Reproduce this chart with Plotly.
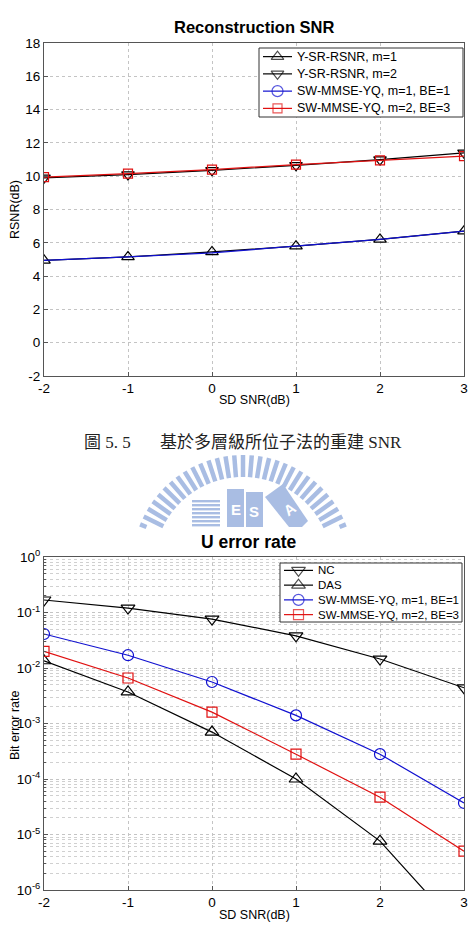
import numpy as np
import plotly.graph_objects as go

W, H = 475, 928

# ---------------- data ----------------
snr = [-2, -1, 0, 1, 2, 3]

# Top chart: Reconstruction SNR
ysr_m1 = [4.95, 5.15, 5.45, 5.8, 6.2, 6.7]
ysr_m2 = [9.9, 10.1, 10.35, 10.65, 11.0, 11.4]
sw_m1_be1 = [4.95, 5.15, 5.4, 5.8, 6.2, 6.7]
sw_m2_be3 = [9.95, 10.15, 10.4, 10.7, 10.95, 11.2]
top_names = ["Y-SR-RSNR, m=1", "Y-SR-RSNR, m=2", "SW-MMSE-YQ, m=1, BE=1", "SW-MMSE-YQ, m=2, BE=3"]
top_yticks = [-2, 0, 2, 4, 6, 8, 10, 12, 14, 16, 18]

# Bottom chart: U error rate
nc = [0.168, 0.12, 0.076, 0.038, 0.0145, 0.0044]
das = [0.0135, 0.0037, 0.0007, 1.0e-4, 7.6e-6, 1.6e-7]
sw_ber_m1 = [0.041, 0.017, 0.0056, 0.0014, 2.8e-4, 3.7e-5]
sw_ber_m2 = [0.02, 0.0066, 0.0016, 2.8e-4, 4.7e-5, 5.0e-6]
bot_names = ["NC", "DAS", "SW-MMSE-YQ, m=1, BE=1", "SW-MMSE-YQ, m=2, BE=3"]
decade_exps = [0, -1, -2, -3, -4, -5, -6]
xticks = [-2, -1, 0, 1, 2, 3]

caption_num = "圖 5. 5"
caption_txt = "基於多層級所位子法的重建 SNR"


def px(x):
    return x / W


def py(y):
    return 1 - y / H


FONT = "Liberation Sans, Arial, sans-serif"
GRID = "#c4c4c4"
AXC = "#555555"
BLK, BLU, RED = "black", "#1010d0", "#e01010"

top_styles = [(BLK, "triangle-up-open", 11), (BLK, "triangle-down-open", 11),
              (BLU, "circle-open", 11), (RED, "square-open", 9)]
bot_styles = [(BLK, "triangle-down-open", 12), (BLK, "triangle-up-open", 12),
              (BLU, "circle-open", 11), (RED, "square-open", 10)]

fig = go.Figure()

# ---- top traces ----
for (col, sym, sz), ys, nm in zip(top_styles, [ysr_m1, ysr_m2, sw_m1_be1, sw_m2_be3], top_names):
    show_m = sym != "circle-open"  # blue markers hidden under the triangles in the reference
    fig.add_trace(go.Scatter(x=snr, y=ys, name=nm, mode="lines+markers" if show_m else "lines",
                             line=dict(color=col, width=1.2),
                             marker=dict(symbol=sym, size=sz, color=col, line=dict(width=1.2)),
                             xaxis="x", yaxis="y", showlegend=False))

# ---- bottom traces ----
for (col, sym, sz), ys, nm in zip(bot_styles, [nc, das, sw_ber_m1, sw_ber_m2], bot_names):
    fig.add_trace(go.Scatter(x=snr, y=ys, name=nm, mode="lines+markers",
                             line=dict(color=col, width=1.2),
                             marker=dict(symbol=sym, size=sz, color=col, line=dict(width=1.2)),
                             xaxis="x2", yaxis="y2", showlegend=False))

# ---- hand-built legends on a pixel overlay axis ----
def add_legend(names, styles, box, font_size):
    x0, y0, x1, y1 = box
    fig.add_trace(go.Scatter(x=[x0, x1, x1, x0, x0], y=[y0, y0, y1, y1, y0], mode="lines",
                             fill="toself", fillcolor="white", line=dict(color="#333", width=1),
                             xaxis="x3", yaxis="y3", showlegend=False, hoverinfo="skip"))
    n = len(names)
    rh = (y1 - y0) / n
    for i, (nm, (col, sym, sz)) in enumerate(zip(names, styles)):
        yc = y0 + rh * (i + 0.5)
        lx0, lx1 = x0 + 4, x0 + 33
        fig.add_trace(go.Scatter(x=[lx0, (lx0 + lx1) / 2, lx1], y=[yc, yc, yc], mode="lines+markers",
                                 line=dict(color=col, width=1.2),
                                 marker=dict(symbol=sym, size=[0, sz, 0], color=col, line=dict(width=1.2)),
                                 xaxis="x3", yaxis="y3", showlegend=False, hoverinfo="skip"))
        fig.add_annotation(text=nm, x=px(lx1 + 3), y=py(yc), xref="paper", yref="paper",
                           showarrow=False, xanchor="left", yanchor="middle",
                           font=dict(family=FONT, size=font_size, color="black"))


add_legend(top_names, top_styles, (259, 48, 463, 117), 12.5)
add_legend(bot_names, bot_styles, (280, 563, 462, 622), 11.5)

xdom = [px(44), px(464)]
top_dom = [py(376), py(43)]
bot_dom = [py(890), py(557)]

common_axis = dict(showline=True, linecolor=AXC, linewidth=1, mirror=True,
                   ticks="inside", ticklen=4, tickcolor=AXC, automargin=False,
                   showgrid=True, gridcolor=GRID, griddash="dot", gridwidth=1,
                   zeroline=False, tickfont=dict(family=FONT, size=13.5, color="black"))

minor_vals = [m * 10.0 ** e for e in decade_exps[1:] for m in range(2, 10)]

fig.update_layout(
    width=W, height=H, margin=dict(l=0, r=0, t=0, b=0),
    paper_bgcolor="white", plot_bgcolor="rgba(0,0,0,0)",
    font=dict(family=FONT, color="black"), showlegend=False,
    xaxis=dict(domain=xdom, anchor="y", range=[-2, 3], tickvals=xticks,
               ticktext=[str(v) for v in xticks], **common_axis),
    yaxis=dict(domain=top_dom, anchor="x", range=[-2, 18], tickvals=top_yticks,
               ticktext=[str(v) for v in top_yticks], **common_axis),
    xaxis2=dict(domain=xdom, anchor="y2", range=[-2, 3], tickvals=xticks,
                ticktext=[str(v) for v in xticks], **common_axis),
    yaxis2=dict(domain=bot_dom, anchor="x2", type="log", range=[-6, 0],
                tickvals=[10.0 ** e for e in decade_exps],
                ticktext=["10<sup>%d</sup>" % e for e in decade_exps],
                minor=dict(tickvals=minor_vals, showgrid=True, gridcolor="#d0d0d0",
                           griddash="dot", ticks="inside", ticklen=2, tickcolor=AXC),
                **common_axis),
    xaxis3=dict(domain=[0, 1], anchor="y3", range=[0, W], visible=False, fixedrange=True),
    yaxis3=dict(domain=[0, 1], anchor="x3", range=[H, 0], visible=False, fixedrange=True),
)

ann = [
    dict(text="<b>Reconstruction SNR</b>", x=px(254), y=py(27), font=dict(size=16.5)),
    dict(text="<b>U error rate</b>", x=px(249), y=py(542), font=dict(size=17.5)),
    dict(text="SD SNR(dB)", x=px(254), y=py(400), font=dict(size=12.5)),
    dict(text="SD SNR(dB)", x=px(254), y=py(915), font=dict(size=12.5)),
    dict(text="RSNR(dB)", x=px(15), y=py(210), font=dict(size=12.5), textangle=-90),
    dict(text="Bit error rate", x=px(15), y=py(725), font=dict(size=12.5), textangle=-90),
    dict(text=caption_num, x=px(107), y=py(443),
         font=dict(family="Liberation Serif, Noto Sans CJK TC", size=17, color="#222")),
    dict(text=caption_txt, x=px(281), y=py(443),
         font=dict(family="Liberation Serif, Noto Sans CJK TC", size=17, color="#222")),
]
for a in ann:
    a.update(xref="paper", yref="paper", showarrow=False, xanchor="center", yanchor="middle")
    a["font"].setdefault("family", FONT)
    a["font"].setdefault("color", "black")
    fig.add_annotation(**a)

# ---------------- watermark logo (decoration) ----------------
LOGO = "#a9bde3"
cx, cy, r1, r2, ycut = 243, 566, 89, 111, 527
shapes = []
for ang in np.linspace(-68, 68, 31):
    a = np.radians(ang)
    sx, sy = np.sin(a), -np.cos(a)
    x1, y1 = cx + r1 * sx, cy + r1 * sy
    x2, y2 = cx + r2 * sx, cy + r2 * sy
    if y2 > ycut:
        continue
    if y1 > ycut:
        t = (ycut - y2) / (y1 - y2)
        x1, y1 = x2 + t * (x1 - x2), ycut
    shapes.append(dict(type="line", xref="paper", yref="paper",
                       x0=px(x1), y0=py(y1), x1=px(x2), y1=py(y2),
                       line=dict(color=LOGO, width=4.5)))
for i in range(7):
    yt = 500 + i * 4
    shapes.append(dict(type="rect", xref="paper", yref="paper", x0=px(192), x1=px(220),
                       y0=py(yt + 2.4), y1=py(yt), fillcolor=LOGO, line=dict(width=0)))
shapes.append(dict(type="rect", xref="paper", yref="paper", x0=px(227), x1=px(244),
                   y0=py(527), y1=py(489), fillcolor=LOGO, line=dict(width=0)))
shapes.append(dict(type="rect", xref="paper", yref="paper", x0=px(246), x1=px(263),
                   y0=py(527), y1=py(492), fillcolor=LOGO, line=dict(width=0)))
pts = [(265, 497), (283, 484), (308, 521), (302, 527), (289, 527)]
path = "M " + " L ".join("%f,%f" % (px(x), py(y)) for x, y in pts) + " Z"
shapes.append(dict(type="path", xref="paper", yref="paper", path=path,
                   fillcolor=LOGO, line=dict(width=0)))
fig.update_layout(shapes=shapes)
for t, x, y, ang in [("E", 235.5, 510, 0), ("S", 254.5, 511, 0), ("A", 289, 509, -35)]:
    fig.add_annotation(text="<b>%s</b>" % t, x=px(x), y=py(y), xref="paper", yref="paper",
                       showarrow=False, textangle=ang, font=dict(family=FONT, size=15, color="white"))

fig.write_html("out.html")
